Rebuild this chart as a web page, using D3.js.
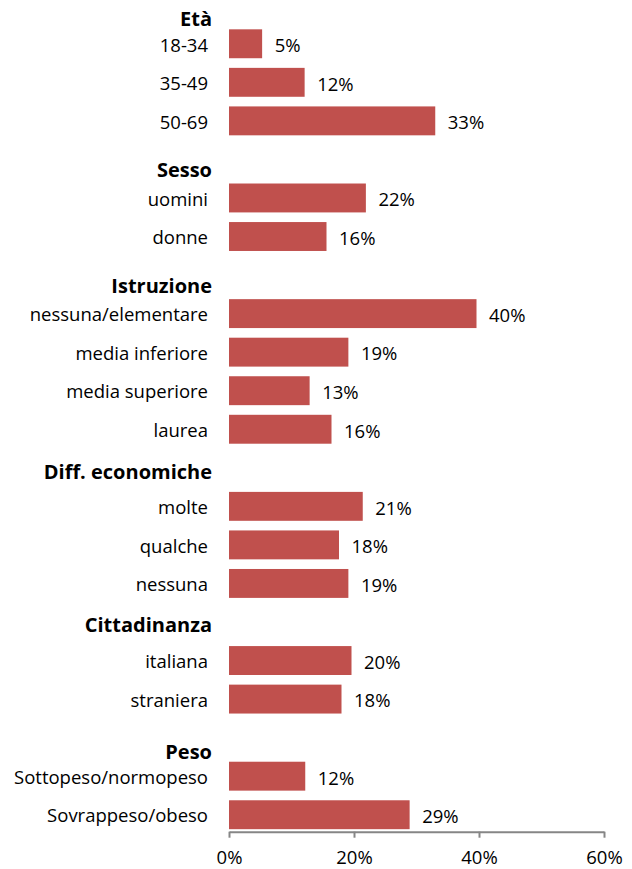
<!DOCTYPE html>
<html><head><meta charset="utf-8">
<script src="https://cdn.jsdelivr.net/npm/d3@7/dist/d3.min.js"></script>
<style>body{margin:0;background:#fff}svg{display:block}</style>
</head><body>
<svg id="c" width="632" height="869"></svg>
<script>
// Rows in display order ("#..." = header/spacer rows without a bar)
const categories = ["18-34","35-49","50-69","#Sesso","uomini","donne","#Istruzione",
  "nessuna/elementare","media inferiore","media superiore","laurea","#Diff",
  "molte","qualche","nessuna","#Cittadinanza","italiana","straniera","#blank",
  "Sottopeso/normopeso","Sovrappeso/obeso"];
const barCategories = ["18-34","35-49","50-69","uomini","donne","nessuna/elementare",
  "media inferiore","media superiore","laurea","molte","qualche","nessuna",
  "italiana","straniera","Sottopeso/normopeso","Sovrappeso/obeso"];
const values = [0.053,0.121,0.33,0.219,0.156,0.396,0.191,0.129,0.164,0.214,0.176,0.191,0.196,0.18,0.122,0.289];
const groupTitles = ["Età","Sesso","Istruzione","Diff. economiche","Cittadinanza","Peso"];
const groupFirst = ["18-34","uomini","nessuna/elementare","molte","italiana","Sottopeso/normopeso"];
const tickValues = [0,0.2,0.4,0.6];

// layout
const headerGap = [3.3,6.6,6.6,12.7,13.6,2.7];
const font = "'Open Sans', sans-serif";
const fs = 18.5;
const svg = d3.select("#c");
const x = d3.scaleLinear().domain([0,0.6]).range([229,604]);
const y = d3.scaleBand().domain(categories).range([24.5,834]).paddingInner(0.25).paddingOuter(0.125);
const fmt = d3.format(".0%");
const data = barCategories.map((c,i)=>({c, v: values[i]}));

svg.append("g").selectAll("rect").data(data).join("rect")
  .attr("x", x(0)).attr("y", d=>y(d.c))
  .attr("width", d=>x(d.v)-x(0)).attr("height", y.bandwidth())
  .attr("fill","#C0504D");

svg.append("g").selectAll("text").data(data).join("text")
  .attr("x", d=>x(d.v)+12.5).attr("y", d=>y(d.c)+y.bandwidth()/2)
  .attr("dy","0.45em").attr("font-family",font).attr("font-size",fs).attr("fill","#000")
  .text(d=>fmt(d.v));

svg.append("g").selectAll("text").data(data).join("text")
  .attr("x", 208).attr("y", d=>y(d.c)+y.bandwidth()/2)
  .attr("dy","0.42em").attr("text-anchor","end")
  .attr("font-family",font).attr("font-size",fs).attr("fill","#000")
  .text(d=>d.c);

svg.append("g").selectAll("text").data(groupTitles).join("text")
  .attr("x", 212).attr("y", (d,i)=>y(groupFirst[i]) - headerGap[i])
  .attr("text-anchor","end").attr("font-family",font).attr("font-weight","bold")
  .attr("font-size",20).attr("fill","#000")
  .text(d=>d);

const ax = svg.append("g").attr("transform","translate(0,831.7)")
  .call(d3.axisBottom(x).tickValues(tickValues).tickFormat(fmt).tickSize(6).tickSizeOuter(0).tickPadding(0));
ax.select(".domain").attr("stroke","#868686").attr("stroke-width",2);
ax.selectAll(".tick line").attr("stroke","#868686").attr("stroke-width",2);
ax.selectAll(".tick text").attr("font-family",font).attr("font-size",fs).attr("fill","#000")
  .attr("y", 32.5).attr("dy", 0);
</script>
</body></html>
